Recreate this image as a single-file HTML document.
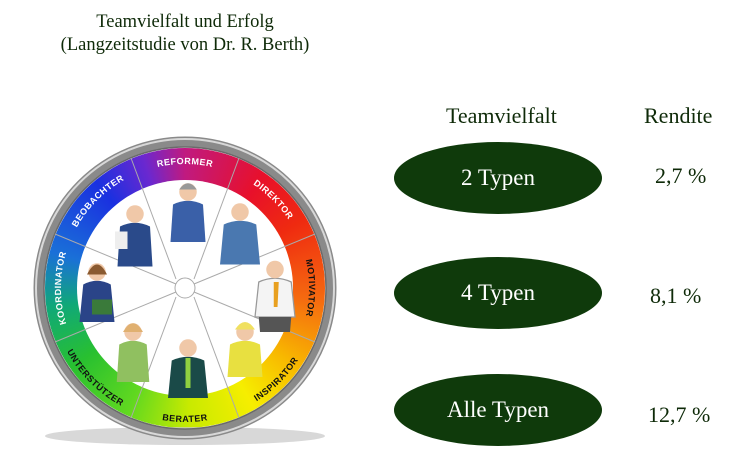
<!DOCTYPE html>
<html><head><meta charset="utf-8"><style>
html,body{margin:0;padding:0;background:#fff;width:733px;height:458px;overflow:hidden;position:relative;font-family:"Liberation Serif",serif}
.t{position:absolute;color:#0e2a08;white-space:nowrap}
.el{position:absolute;width:208px;height:72px;border-radius:50%;background:#0f3a0b;color:#fff;font-size:23px;display:flex;align-items:center;justify-content:center}
</style></head><body>
<div class="t" style="left:0;width:370px;text-align:center;top:11px;font-size:18.5px;line-height:23px">Teamvielfalt und Erfolg<br>(Langzeitstudie von Dr. R. Berth)</div>
<div class="t" style="left:446px;top:103px;font-size:22px">Teamvielfalt</div>
<div class="t" style="left:644px;top:103px;font-size:22px">Rendite</div>
<div class="el" style="left:394px;top:142px">2 Typen</div>
<div class="el" style="left:394px;top:257px">4 Typen</div>
<div class="el" style="left:394px;top:374px">Alle Typen</div>
<div class="t" style="left:655px;top:163px;font-size:22px">2,7 %</div>
<div class="t" style="left:650px;top:283px;font-size:22px">8,1 %</div>
<div class="t" style="left:648px;top:402px;font-size:22px">12,7 %</div>

<div style="position:absolute;left:45px;top:148px;width:280px;height:280px;border-radius:50%;background:conic-gradient(#c01a80 0deg,#e8102a 35deg,#ef2a10 60deg,#f56a10 95deg,#f8b800 125deg,#f6ee00 150deg,#c8ea00 178deg,#60d820 205deg,#28c030 235deg,#10a878 262deg,#1a70d8 285deg,#1a30e0 320deg,#6a28d0 342deg,#c01a80 360deg)"></div>
<svg width="733" height="458" style="position:absolute;left:0;top:0">
<defs>
<path id="cw" d="M185,412 A124,124 0 1 1 185,164 A124,124 0 1 1 185,412"/>
<path id="ccw" d="M185,154 A134,134 0 1 0 185,422 A134,134 0 1 0 185,154"/>
</defs>
<ellipse cx="185" cy="436" rx="140" ry="9" fill="#c8c8c8" opacity="0.7"/>
<circle cx="185" cy="288" r="146" fill="none" stroke="#8a8a8a" stroke-width="11"/>
<circle cx="185" cy="288" r="149" fill="none" stroke="#d8d8d8" stroke-width="2"/>
<circle cx="185" cy="288" r="141" fill="none" stroke="#6a6a6a" stroke-width="1.5"/>
<circle cx="185" cy="288" r="108" fill="#fff"/>
<g stroke="#aaa" stroke-width="1">
<line x1="194" y1="279" x2="239" y2="158"/><line x1="194" y1="297" x2="239" y2="418"/>
<line x1="176" y1="279" x2="131" y2="158"/><line x1="176" y1="297" x2="131" y2="418"/>
<line x1="194" y1="284" x2="315" y2="234"/><line x1="194" y1="292" x2="315" y2="342"/>
<line x1="176" y1="284" x2="55" y2="234"/><line x1="176" y1="292" x2="55" y2="342"/>
</g>
<circle cx="185" cy="288" r="10" fill="#fff" stroke="#aaa"/>
<g font-family="Liberation Sans,sans-serif" font-weight="bold" font-size="9" text-anchor="middle" letter-spacing="0.5">
<text fill="#fff"><textPath href="#cw" startOffset="50%">REFORMER</textPath></text>
<text fill="#fff"><textPath href="#cw" startOffset="62.5%">DIREKTOR</textPath></text>
<text fill="#111"><textPath href="#cw" startOffset="75%">MOTIVATOR</textPath></text>
<text fill="#fff"><textPath href="#cw" startOffset="25%">KOORDINATOR</textPath></text>
<text fill="#fff"><textPath href="#cw" startOffset="37.5%">BEOBACHTER</textPath></text>
<text fill="#111"><textPath href="#ccw" startOffset="50%">BERATER</textPath></text>
<text fill="#111"><textPath href="#ccw" startOffset="37.5%">UNTERSTÜTZER</textPath></text>
<text fill="#111"><textPath href="#ccw" startOffset="62.5%">INSPIRATOR</textPath></text>
</g>
<g>
<g transform="translate(188,212) scale(1.25)"><path d="M-14,24 L-12,-6 Q0,-12 12,-6 L14,24Z" fill="#3a60a8"/><circle cy="-16" r="7" fill="#f0c8a8"/><path d="M-7,-18 Q0,-28 7,-18" fill="#999"/></g>
<g transform="translate(240,232) scale(1.25)"><path d="M-16,26 L-13,-6 Q0,-12 13,-6 L16,26Z" fill="#4a78b0"/><circle cy="-16" r="7" fill="#f0c8a8"/></g>
<g transform="translate(275,292) scale(1.25)"><path d="M-16,20 L-13,-8 Q0,-14 13,-8 L16,20Z" fill="#f4f4f4" stroke="#999"/><path d="M-13,20 L13,20 L12,32 L-12,32Z" fill="#555"/><circle cy="-18" r="7" fill="#f0c8a8"/><path d="M-1,-8 L3,-8 L2,12 L-1,12Z" fill="#e8a020"/></g>
<g transform="translate(245,352) scale(1.25)"><path d="M-14,20 L-12,-6 Q0,-12 12,-6 L14,20Z" fill="#e8e040"/><circle cy="-16" r="7" fill="#f0c8a8"/><path d="M-8,-18 Q0,-30 8,-18" fill="#f0e060"/></g>
<g transform="translate(188,368) scale(1.25)"><path d="M-16,24 L-13,-6 Q0,-12 13,-6 L16,24Z" fill="#1a4a48"/><path d="M-2,-8 L2,-8 L2,16 L-2,16Z" fill="#90d040"/><circle cy="-16" r="7" fill="#f0c8a8"/></g>
<g transform="translate(133,352) scale(1.25)"><path d="M-13,24 L-11,-6 Q0,-12 11,-6 L13,24Z" fill="#90c060"/><circle cy="-16" r="7" fill="#f0c8a8"/><path d="M-8,-16 Q0,-30 8,-16" fill="#e0b070"/></g>
<g transform="translate(97,292) scale(1.25)"><path d="M-14,24 L-11,-6 Q0,-12 11,-6 L14,24Z" fill="#2a4488"/><rect x="-4" y="6" width="16" height="12" fill="#3a7a3a"/><circle cy="-16" r="7" fill="#f0c8a8"/><path d="M-8,-14 Q0,-30 8,-14" fill="#8a5a30"/></g>
<g transform="translate(135,234) scale(1.25)"><path d="M-14,26 L-12,-6 Q0,-12 12,-6 L14,26Z" fill="#2a4a8a"/><rect x="-16" y="-2" width="10" height="14" fill="#eee"/><circle cy="-16" r="7" fill="#f0c8a8"/></g>
</g>
</svg>
</body></html>
